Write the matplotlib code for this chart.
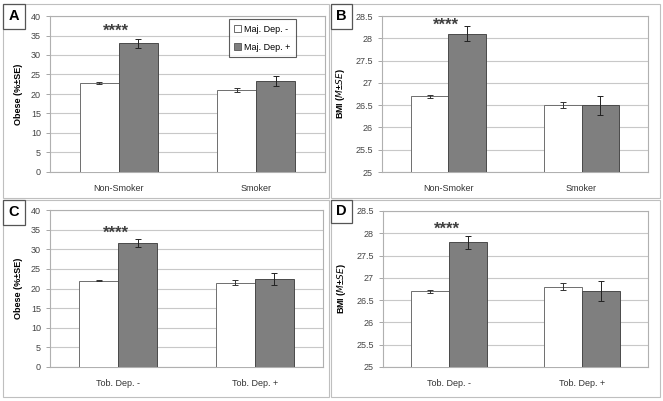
import numpy as np
import matplotlib
matplotlib.use("Agg")
import matplotlib.pyplot as plt
from matplotlib.patches import Rectangle, Patch

plt.rcParams['font.family'] = ['Liberation Sans', 'DejaVu Sans']

# data
smoke_cats = ["Non-Smoker", "Smoker"]
tob_cats = ["Tob. Dep. -", "Tob. Dep. +"]
series_names = ["Maj. Dep. -", "Maj. Dep. +"]

obese_smoke_neg = [22.9, 21.0]
obese_smoke_pos = [33.0, 23.3]
obese_smoke_neg_err = [0.3, 0.5]
obese_smoke_pos_err = [1.1, 1.3]

bmi_smoke_neg = [26.7, 26.5]
bmi_smoke_pos = [28.1, 26.5]
bmi_smoke_neg_err = [0.03, 0.07]
bmi_smoke_pos_err = [0.17, 0.21]

obese_tob_neg = [22.0, 21.5]
obese_tob_pos = [31.7, 22.4]
obese_tob_neg_err = [0.2, 0.7]
obese_tob_pos_err = [1.0, 1.6]

bmi_tob_neg = [26.7, 26.8]
bmi_tob_pos = [27.8, 26.7]
bmi_tob_neg_err = [0.03, 0.08]
bmi_tob_pos_err = [0.15, 0.23]

W, H = 663, 401
fig = plt.figure(figsize=(W / 100, H / 100), dpi=100)
fig.patch.set_facecolor("white")


def px_axes(x0, y0, x1, y1):
    return fig.add_axes([x0 / W, 1 - y1 / H, (x1 - x0) / W, (y1 - y0) / H])


def box(x0, y0, x1, y1, lw=0.8, color="#bfbfbf"):
    fig.patches.append(Rectangle((x0 / W, 1 - y1 / H), (x1 - x0) / W, (y1 - y0) / H,
                                 transform=fig.transFigure, fill=False,
                                 edgecolor=color, linewidth=lw))


def panel(ax, cats, neg, pos, neg_err, pos_err, ylim, step, ylabel, star_y, letter, lbox):
    x = np.arange(len(cats))
    w = 0.285
    ax.set_axisbelow(True)
    ax.bar(x - w / 2, neg, w, color="white", edgecolor="#6e6e6e", linewidth=0.7,
           yerr=neg_err, error_kw=dict(ecolor="#333333", elinewidth=0.7, capsize=2.2, capthick=0.7),
           zorder=3)
    ax.bar(x + w / 2, pos, w, color="#7f7f7f", edgecolor="#4a4a4a", linewidth=0.7,
           yerr=pos_err, error_kw=dict(ecolor="#222222", elinewidth=0.7, capsize=2.2, capthick=0.7),
           zorder=3)
    ax.set_xlim(-0.5, len(cats) - 0.5)
    ax.set_ylim(*ylim)
    ticks = np.arange(ylim[0], ylim[1] + step / 2, step)
    ax.set_yticks(ticks)
    ax.set_yticklabels([f"{v:g}" for v in ticks])
    ax.set_xticks(x)
    ax.set_xticklabels(cats)
    ax.tick_params(axis="x", length=0, labelsize=6.5, pad=9, colors="#333333")
    ax.tick_params(axis="y", length=3, labelsize=6.5, colors="#444444", width=0.6,
                   color="#999999")
    ax.grid(axis="y", color="#c8c8c8", linewidth=0.8)
    for s in ax.spines.values():
        s.set_color("#b0b0b0")
        s.set_linewidth(0.8)
    ax.set_ylabel(ylabel, fontsize=6.5, fontweight="bold", labelpad=6)
    ax.text(-0.02, star_y, "****", ha="center", va="center", fontsize=12,
            fontweight="bold", color="#404040")
    box(*lbox, lw=0.9, color="#555555")
    fig.text((lbox[0] + lbox[2]) / 2 / W, 1 - (lbox[1] + lbox[3]) / 2 / H, letter,
             ha="center", va="center", fontsize=10.5, fontweight="bold")


# panel frames
box(3, 4, 329, 198)
box(331, 4, 660, 198)
box(3, 200, 329, 397)
box(331, 200, 660, 397)

axA = px_axes(50, 16, 325, 172)
panel(axA, smoke_cats, obese_smoke_neg, obese_smoke_pos, obese_smoke_neg_err, obese_smoke_pos_err,
      (0, 40), 5, "Obese (%±SE)", 36.0, "A", (3, 4, 25, 29))

axB = px_axes(382, 16, 648, 172)
panel(axB, smoke_cats, bmi_smoke_neg, bmi_smoke_pos, bmi_smoke_neg_err, bmi_smoke_pos_err,
      (25, 28.5), 0.5, "BMI ($\\it{M}$±$\\it{SE}$)", 28.3, "B", (331, 4, 352, 29))

axC = px_axes(50, 210, 323, 367)
panel(axC, tob_cats, obese_tob_neg, obese_tob_pos, obese_tob_neg_err, obese_tob_pos_err,
      (0, 40), 5, "Obese (%±SE)", 34.0, "C", (3, 200, 25, 225))

axD = px_axes(383, 211, 648, 367)
panel(axD, tob_cats, bmi_tob_neg, bmi_tob_pos, bmi_tob_neg_err, bmi_tob_pos_err,
      (25, 28.5), 0.5, "BMI ($\\it{M}$±$\\it{SE}$)", 28.08, "D", (331, 200, 352, 223))

handles = [Patch(facecolor="white", edgecolor="#555555", linewidth=0.6),
           Patch(facecolor="#7f7f7f", edgecolor="#555555", linewidth=0.6)]
leg = axA.legend(handles, series_names, loc="upper right", bbox_to_anchor=(0.9, 0.99),
                 fontsize=6.5, frameon=True, fancybox=False, handlelength=0.8,
                 handleheight=0.8, handletextpad=0.3, labelspacing=1.0,
                 borderpad=0.6, borderaxespad=0.2)
leg.get_frame().set_edgecolor("#333333")
leg.get_frame().set_linewidth(0.8)

fig.savefig("out.png", dpi=100, facecolor="white")
